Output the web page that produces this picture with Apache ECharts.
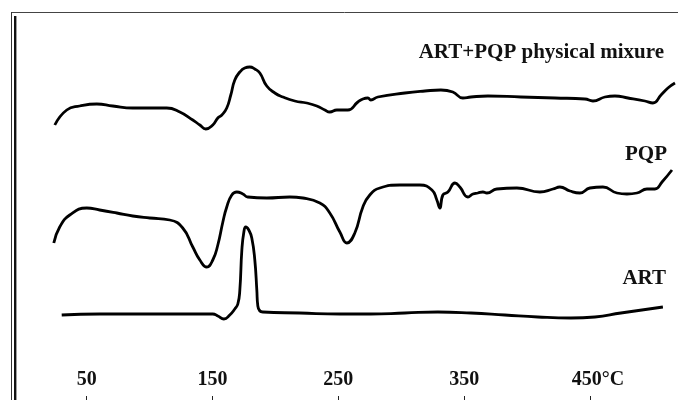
<!DOCTYPE html>
<html>
<head>
<meta charset="utf-8">
<script src="https://cdn.jsdelivr.net/npm/echarts@6/dist/echarts.min.js"></script>
<style>
html, body { margin: 0; padding: 0; background: #fff; }
#echart { width: 678px; height: 400px; }
</style>
</head>
<body>
<div id="echart"></div>
<script>
// temperature (°C) and heat flow (arbitrary units)
var mixT = [24.6, 34.1, 44.4, 58.0, 70.7, 86.6, 100.1, 113.6, 124.0, 134.3, 139.9, 144.6, 150.2, 154.2, 157.4, 161.3,
	164.5, 167.7, 171.7, 175.6, 179.6, 183.6, 187.6, 193.1, 199.5, 205.9, 215.4, 224.9, 232.9, 239.3, 243.2, 248.8,
	257.6, 265.5, 269.5, 273.5, 275.8, 281.4, 302.9, 318.8, 331.5, 341.0, 349.0, 355.4, 368.9, 395.1, 422.2, 446.0,
	452.4, 461.9, 469.9, 480.2, 493.7, 500.1, 506.5, 512.0, 517.6];
var mixV = [275, 290, 294, 296, 294, 292, 292, 292, 288, 280, 275, 271, 275, 282, 285, 292,
	305, 320, 328, 332, 333, 331, 327, 314, 307, 303, 299, 297, 294, 290, 288, 290,
	290, 298, 301, 302, 300, 303, 307, 309, 310, 308, 302, 303, 304, 303, 302, 301,
	299, 303, 304, 302, 299, 297, 305, 312, 317];

var pqpT = [23.8, 28.5, 36.5, 50.0, 60.3, 73.9, 86.6, 100.1, 116.0, 126.3, 134.3, 139.9, 145.4, 150.2, 154.2, 158.2,
	161.3, 165.3, 169.3, 174.1, 178.0, 193.1, 211.4, 221.8, 235.3, 243.2, 251.2, 256.8, 263.1, 269.5, 275.0, 283.0,
	298.9, 314.8, 324.4, 328.3, 330.7, 333.1, 337.1, 342.7, 346.6, 353.0, 357.0, 360.9, 364.9, 368.1, 376.0, 391.9,
	410.2, 420.6, 426.1, 434.1, 442.0, 450.0, 460.3, 471.5, 479.4, 487.4, 495.3, 501.7, 507.3, 515.2];
var pqpV = [157, 173, 185, 192, 190, 187, 184, 182, 180, 172, 153, 140, 133, 140, 155, 178,
	193, 205, 208, 206, 203, 202, 203, 202, 197, 187, 168, 157, 167, 193, 205, 212,
	215, 215, 210, 200, 192, 205, 208, 217, 213, 203, 206, 207, 208, 207, 211, 212,
	208, 211, 213, 209, 207, 212, 213, 207, 206, 207, 211, 211, 218, 230];

var artT = [30.1, 60.3, 113.6, 150.2, 154.2, 159.0, 163.7, 167.7, 170.1, 171.7, 173.3, 174.9, 176.4, 178.8, 181.2, 183.6,
	185.2, 186.0, 190.0, 219.4, 251.2, 275.8, 302.9, 329.1, 355.4, 382.4, 408.6, 434.9, 454.0, 474.6, 508.0];
var artV = [85, 86, 86, 86, 84, 81, 85, 91, 96, 110, 150, 168, 173, 170, 162, 140,
	110, 94, 88, 87, 86, 86, 87, 88, 87, 85, 83, 82, 83, 87, 93];

var tickValues = [50, 150, 250, 350, 450];
var seriesNames = ['ART+PQP physical mixure', 'PQP', 'ART'];

function zip(xs, ys) {
	var out = [];
	for (var i = 0; i < xs.length; i++) {
		out.push([xs[i], ys[i]]);
	}
	return out;
}

var myChart = echarts.init(document.getElementById('echart'));
var serif = '"Liberation Serif", "DejaVu Serif", serif';

var lineStyle = { color : '#000', width : 2.8 };

var option = {
	animation : false,
	backgroundColor : '#fff',
	grid : { left : 49, right : 0, top : 0, bottom : 0 },
	xAxis : {
		type : 'value',
		min : 20,
		max : 520,
		axisLine : { show : false },
		splitLine : { show : false },
		axisTick : {
			inside : true,
			length : 4,
			customValues : tickValues,
			lineStyle : { color : '#222', width : 1 }
		},
		axisLabel : {
			inside : true,
			margin : 10,
			customValues : tickValues,
			color : '#111',
			fontFamily : serif,
			fontWeight : 'bold',
			fontSize : 20,
			formatter : function (v) {
				if (v === 450) {
					return '{o|450°C}'; // shifted a bit right like the original
				}
				return '' + v;
			},
			rich : {
				o : {
					padding : [0, 0, 0, 16],
					color : '#111',
					fontFamily : serif,
					fontWeight : 'bold',
					fontSize : 20
				}
			}
		}
	},
	yAxis : {
		type : 'value',
		min : 0,
		max : 400,
		show : false
	},
	// frame lines and the curve names
	graphic : [
		{ type : 'line', shape : { x1 : 11, y1 : 12.5, x2 : 678, y2 : 12.5 }, style : { stroke : '#444', lineWidth : 1 } },
		{ type : 'line', shape : { x1 : 11.5, y1 : 12, x2 : 11.5, y2 : 400 }, style : { stroke : '#333', lineWidth : 1 } },
		{ type : 'line', shape : { x1 : 15.2, y1 : 16, x2 : 15.2, y2 : 400 }, style : { stroke : '#111', lineWidth : 2.4 } },
		{ type : 'text', right : 14, top : 42, style : { text : seriesNames[0], fill : '#111', font : 'bold 21px ' + serif } },
		{ type : 'text', right : 11, top : 144, style : { text : seriesNames[1], fill : '#111', font : 'bold 21px ' + serif } },
		{ type : 'text', right : 12, top : 268, style : { text : seriesNames[2], fill : '#111', font : 'bold 21px ' + serif } }
	],
	series : [ {
		name : seriesNames[0],
		type : 'line',
		showSymbol : false,
		smooth : 0.5,
		lineStyle : lineStyle,
		data : zip(mixT, mixV)
	}, {
		name : seriesNames[1],
		type : 'line',
		showSymbol : false,
		smooth : 0.5,
		lineStyle : lineStyle,
		data : zip(pqpT, pqpV)
	}, {
		name : seriesNames[2],
		type : 'line',
		showSymbol : false,
		smooth : 0.5,
		lineStyle : lineStyle,
		data : zip(artT, artV)
	} ]
};

myChart.setOption(option);
</script>
</body>
</html>
